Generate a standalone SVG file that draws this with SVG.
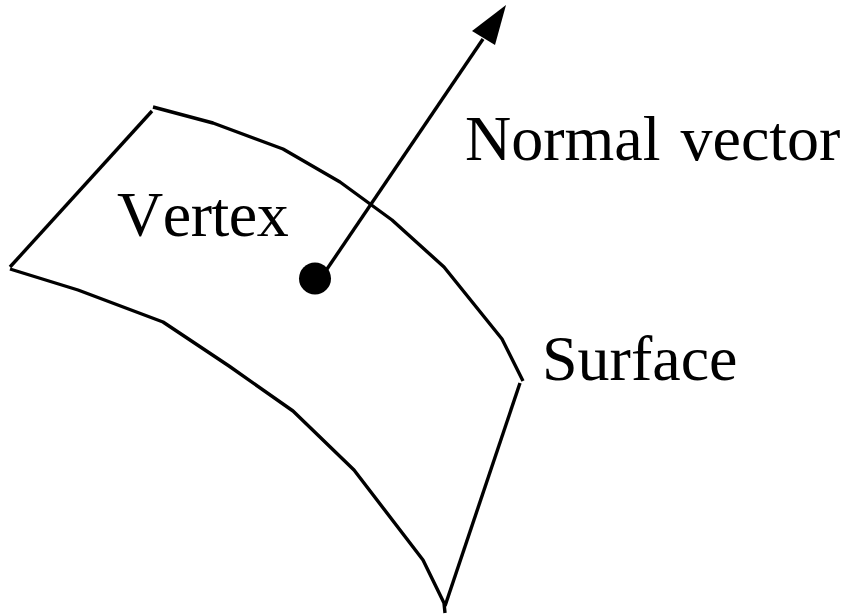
<svg xmlns="http://www.w3.org/2000/svg" width="848" height="616" viewBox="0 0 848 616">
<style>
.l{fill:none;stroke:#000;stroke-width:3.400;stroke-linejoin:round;stroke-linecap:butt}
text{font-family:"Liberation Serif","Times New Roman",serif;font-size:64px;fill:#000}
</style>
<rect width="848" height="616" fill="#fff"/>
<g id="surface">
<path class="l" d="M153 107L213 123L283 149L340 182L392 220L444 267L502 339L523 381"/>
<path class="l" d="M520 383L445 606"/>
<path class="l" d="M445 613L444 603L423 560L354 470L293 411L229 366L163 322L78 290L10 269"/>
<path class="l" d="M10 267L152 111"/>
</g>
<g id="vertex"><circle cx="315" cy="278.500" r="16" fill="#000"/></g>
<g id="connectors"><line x1="325" y1="272" x2="483" y2="39" stroke="#000" stroke-width="3.400"/><polygon points="506,5 495,45 472,31" fill="#000"/></g>
<g id="labels">
<text x="465" y="160" word-spacing="4">Normal vector</text>
<text x="117" y="236" style="font-kerning:none" letter-spacing="-0.500">Vertex</text>
<text x="542" y="380">Surface</text>
</g>
</svg>
